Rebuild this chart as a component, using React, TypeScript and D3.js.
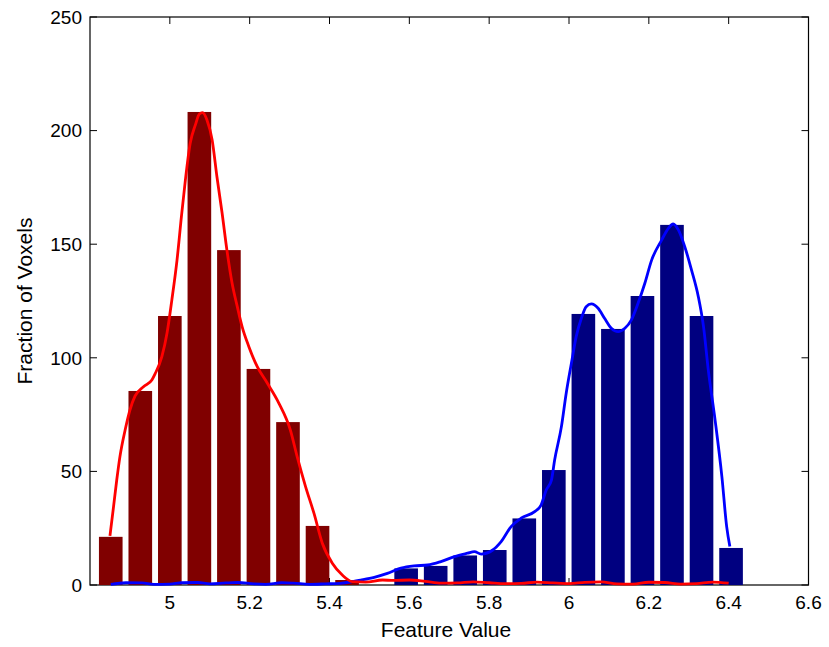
import React from "react";
import * as d3 from "d3";

const binCenters = [4.852, 4.926, 5.0, 5.074, 5.148, 5.222, 5.296, 5.37, 5.444, 5.518, 5.592, 5.666, 5.74, 5.814, 5.888, 5.962, 6.036, 6.11, 6.184, 6.258, 6.332, 6.406];
const redCounts = [21.2, 85.4, 118.4, 208.2, 147.4, 95.1, 71.7, 26, 2.2, 0, 0, 0, 0, 0, 0, 0, 0, 0, 0, 0, 0, 0];
const blueCounts = [0, 0, 0, 0, 0, 0, 0, 0, 0, 0, 7.3, 8.4, 13, 15.4, 29.3, 50.6, 119.3, 112.7, 127.2, 158.5, 118.4, 16.3];

const redCurveX = [4.85, 4.859, 4.867, 4.875, 4.888, 4.9, 4.913, 4.934, 4.955, 4.963, 4.98, 4.993, 5.005, 5.018, 5.029, 5.039, 5.051, 5.064, 5.074, 5.082, 5.093, 5.106, 5.118, 5.131, 5.143, 5.156, 5.169, 5.181, 5.198, 5.219, 5.244, 5.273, 5.302, 5.319, 5.34, 5.361, 5.382, 5.407, 5.432, 5.457, 5.491, 5.533, 5.56, 5.6, 5.64, 5.68, 5.72, 5.76, 5.8, 5.84, 5.88, 5.92, 5.96, 6.0, 6.04, 6.08, 6.12, 6.16, 6.2, 6.24, 6.28, 6.32, 6.36, 6.4];
const redCurveY = [21.6, 34.5, 46.2, 56.5, 68.2, 77.0, 83.2, 87.3, 90.2, 92.9, 100.5, 110.9, 125.4, 143.0, 162.1, 178.3, 194.4, 202.5, 207.3, 207.9, 204.7, 195.9, 179.7, 163.6, 147.4, 132.8, 122.5, 113.7, 104.9, 96.1, 88.9, 80.1, 68.2, 56.5, 43.3, 31.6, 18.4, 9.6, 4.4, 1.5, 1.3, 2.2, 2.0, 2.2, 1.6, 0.8, 0.9, 1.4, 1.0, 0.6, 0.7, 1.3, 0.9, 0.6, 1.2, 1.4, 0.5, 0.4, 1.2, 1.1, 0.4, 0.6, 1.3, 0.8];

const blueCurveX = [4.852, 4.89, 4.93, 4.96, 5.0, 5.03, 5.07, 5.1, 5.14, 5.17, 5.21, 5.24, 5.28, 5.31, 5.35, 5.39, 5.428, 5.478, 5.512, 5.545, 5.579, 5.612, 5.646, 5.679, 5.713, 5.746, 5.763, 5.78, 5.809, 5.83, 5.855, 5.88, 5.914, 5.93, 5.943, 5.956, 5.964, 5.981, 5.993, 6.006, 6.018, 6.031, 6.043, 6.056, 6.073, 6.089, 6.106, 6.123, 6.14, 6.156, 6.173, 6.19, 6.207, 6.232, 6.249, 6.261, 6.274, 6.29, 6.307, 6.324, 6.337, 6.349, 6.366, 6.383, 6.395, 6.403];
const blueCurveY = [0.3, 1.0, 0.9, 0.3, 0.4, 1.0, 1.1, 0.5, 0.9, 1.1, 0.5, 0.3, 1.0, 0.8, 0.3, 0.5, 0.75, 2.2, 3.4, 5.1, 7.4, 8.4, 8.8, 10.3, 12.5, 14.0, 14.7, 13.6, 15.4, 19.1, 25.7, 29.4, 32.3, 35.2, 41.8, 46.2, 55.0, 69.7, 84.4, 97.6, 109.3, 117.4, 122.5, 123.7, 121.8, 117.4, 113.0, 111.5, 113.0, 116.6, 124.0, 132.8, 143.0, 151.8, 157.0, 158.9, 156.3, 148.9, 138.6, 126.9, 113.7, 94.6, 72.6, 47.7, 25.7, 16.9];

const xTicks = [5, 5.2, 5.4, 5.6, 5.8, 6, 6.2, 6.4, 6.6];
const yTicks = [0, 50, 100, 150, 200, 250];

const W = 829;
const H = 647;
const left = 90;
const right = 808.5;
const top = 17;
const bottom = 585;
const binWidth = 0.074 * 0.8;
const font = "'Liberation Sans', Arial, Helvetica, sans-serif";

export default function App() {
  const x = d3.scaleLinear().domain([4.8, 6.6]).range([left, right]);
  const y = d3.scaleLinear().domain([0, 250]).range([bottom, top]);
  const line = d3
    .line<[number, number]>()
    .x((d) => x(d[0]))
    .y((d) => y(d[1]))
    .curve(d3.curveMonotoneX);
  const redPts = redCurveX.map((v, i) => [v, redCurveY[i]] as [number, number]);
  const bluePts = blueCurveX.map((v, i) => [v, blueCurveY[i]] as [number, number]);
  const tl = 7;

  return (
    <svg width={W} height={H} style={{ position: "absolute", left: 0, top: 0, background: "#fff" }}>
      <rect x={0} y={0} width={W} height={H} fill="#fff" />
      {/* axes box and ticks */}
      <rect x={left} y={top} width={right - left} height={bottom - top} fill="none" stroke="#000" strokeWidth={1.2} />
      {xTicks.map((t) => (
        <g key={"xt" + t}>
          <line x1={x(t)} x2={x(t)} y1={bottom} y2={bottom - tl} stroke="#000" />
          <line x1={x(t)} x2={x(t)} y1={top} y2={top + tl} stroke="#000" />
        </g>
      ))}
      {yTicks.map((t) => (
        <g key={"yt" + t}>
          <line x1={left} x2={left + tl} y1={y(t)} y2={y(t)} stroke="#000" />
          <line x1={right} x2={right - tl} y1={y(t)} y2={y(t)} stroke="#000" />
        </g>
      ))}
      {/* bars */}
      {binCenters.map((c, i) =>
        redCounts[i] > 0 ? (
          <rect key={"r" + i} x={x(c - binWidth / 2)} width={x(c + binWidth / 2) - x(c - binWidth / 2)} y={y(redCounts[i])} height={y(0) - y(redCounts[i])} fill="#800000" />
        ) : null
      )}
      {binCenters.map((c, i) =>
        blueCounts[i] > 0 ? (
          <rect key={"b" + i} x={x(c - binWidth / 2)} width={x(c + binWidth / 2) - x(c - binWidth / 2)} y={y(blueCounts[i])} height={y(0) - y(blueCounts[i])} fill="#000080" />
        ) : null
      )}
      {/* curves */}
      <path d={line(bluePts) || ""} fill="none" stroke="#0000ff" strokeWidth={2.8} strokeLinejoin="round" />
      <path d={line(redPts) || ""} fill="none" stroke="#ff0000" strokeWidth={2.8} strokeLinejoin="round" />
      {/* tick labels */}
      {xTicks.map((t) => (
        <text key={"xl" + t} x={x(t)} y={609} textAnchor="middle" fontFamily={font} fontSize={19} fill="#000">
          {String(t)}
        </text>
      ))}
      {yTicks.map((t) => (
        <text key={"yl" + t} x={82} y={y(t) + 6.8} textAnchor="end" fontFamily={font} fontSize={19} fill="#000">
          {String(t)}
        </text>
      ))}
      <text x={446} y={637} textAnchor="middle" fontFamily={font} fontSize={21} fill="#000">
        Feature Value
      </text>
      <text transform={`translate(32, ${(top + bottom) / 2}) rotate(-90)`} textAnchor="middle" fontFamily={font} fontSize={21} fill="#000">
        Fraction of Voxels
      </text>
    </svg>
  );
}
